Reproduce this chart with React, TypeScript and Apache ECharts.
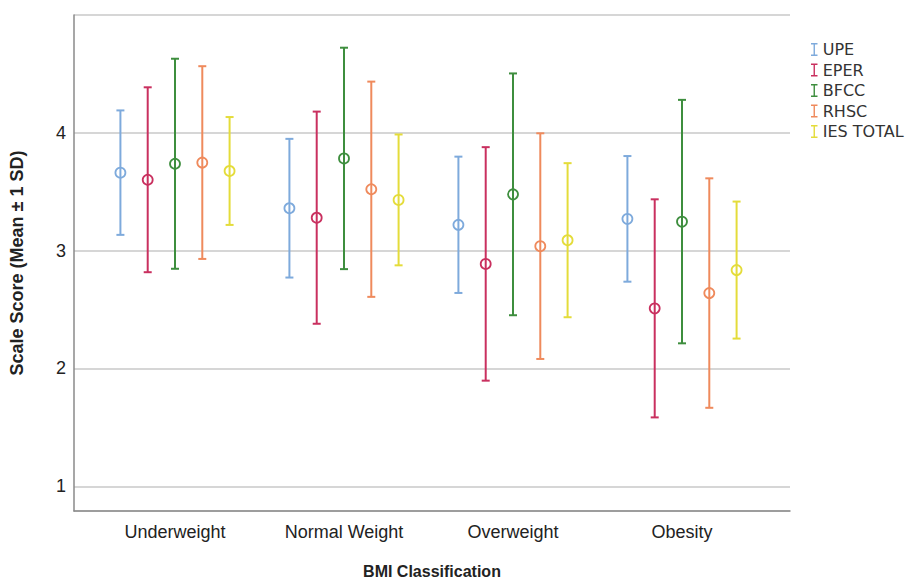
import React, { useEffect, useRef } from "react";
import * as echarts from "echarts";

const categories = ["Underweight", "Normal Weight", "Overweight", "Obesity"];
const seriesNames = ["UPE", "EPER", "BFCC", "RHSC", "IES TOTAL"];
const seriesColors = ["#7eaadc", "#c9305f", "#3e8e3e", "#ef8a5c", "#e4dc3a"];

// mean and SD per series, one value per BMI category
const upeMean = [3.67, 3.37, 3.23, 3.28];
const upeSd = [0.525, 0.585, 0.575, 0.53];
const eperMean = [3.61, 3.29, 2.9, 2.525];
const eperSd = [0.78, 0.895, 0.985, 0.92];
const bfccMean = [3.745, 3.79, 3.487, 3.257];
const bfccSd = [0.886, 0.934, 1.02, 1.027];
const rhscMean = [3.755, 3.53, 3.05, 2.654];
const rhscSd = [0.813, 0.908, 0.952, 0.968];
const iesMean = [3.684, 3.44, 3.1, 2.848];
const iesSd = [0.455, 0.552, 0.65, 0.578];

const yTicks = [1, 2, 3, 4];

const means = [upeMean, eperMean, bfccMean, rhscMean, iesMean];
const sds = [upeSd, eperSd, bfccSd, rhscSd, iesSd];

const FONT = "Liberation Sans, Arial, sans-serif";
const Y_MIN = 0.79;
const Y_MAX = 5;

export default function App() {
  const ref = useRef<HTMLDivElement>(null);
  useEffect(() => {
    if (!ref.current) return;
    const chart = echarts.init(ref.current, null, { renderer: "svg" });
    const series = seriesNames.map((name, s) => ({
      type: "custom",
      name,
      xAxisIndex: 1,
      yAxisIndex: 1,
      itemStyle: { color: seriesColors[s] },
      encode: { x: 0, y: [1] },
      data: categories.map((_, i) => [i, means[s][i], sds[s][i]]),
      renderItem: (params: any, api: any) => {
        const cat = api.value(0);
        const mean = api.value(1);
        const sd = api.value(2);
        const band = api.size([1, 0])[0];
        const off = (params.seriesIndex - 2) * band * 0.1615;
        const top = api.coord([cat, mean + sd]);
        const bot = api.coord([cat, mean - sd]);
        const mid = api.coord([cat, mean]);
        const x = mid[0] + off;
        const color = seriesColors[params.seriesIndex];
        const cw = 4;
        const ls = { stroke: color, lineWidth: 2 };
        return {
          type: "group",
          children: [
            { type: "line", shape: { x1: x, y1: top[1], x2: x, y2: bot[1] }, style: ls },
            { type: "line", shape: { x1: x - cw, y1: top[1], x2: x + cw, y2: top[1] }, style: ls },
            { type: "line", shape: { x1: x - cw, y1: bot[1], x2: x + cw, y2: bot[1] }, style: ls },
            {
              type: "circle",
              shape: { cx: x, cy: mid[1], r: 5 },
              style: { fill: "none", stroke: color, lineWidth: 1.8 },
            },
          ],
        };
      },
    }));

    chart.setOption({
      animation: false,
      backgroundColor: "#ffffff",
      textStyle: { fontFamily: FONT },
      legend: {
        orient: "vertical",
        left: 806,
        top: 36,
        itemWidth: 7,
        itemHeight: 13,
        itemGap: 3.5,
        textStyle: { fontFamily: "DejaVu Sans, " + FONT, fontSize: 16, lineHeight: 17, color: "#333" },
        data: seriesNames.map((n) => ({
          name: n,
          icon: "path://M0,0H7V1.5H4.25V12.5H7V14H0V12.5H2.75V1.5H0Z",
        })),
      },
      grid: [
        { left: 70, right: 123, top: 15, bottom: 70, show: false },
        { left: 90.5, right: 146.5, top: 15, bottom: 70, show: false },
      ],
      xAxis: [
        {
          type: "category",
          gridIndex: 0,
          data: categories,
          axisLine: { show: true, lineStyle: { color: "#8a8a8a", width: 1.5 } },
          axisTick: { show: false },
          axisLabel: { show: false },
          splitLine: { show: false },
          name: "BMI Classification",
          nameLocation: "middle",
          nameGap: 52,
          nameTextStyle: { fontFamily: FONT, fontWeight: "bold", fontSize: 16, color: "#222" },
        },
        {
          type: "category",
          gridIndex: 1,
          data: categories,
          axisLine: { show: false },
          axisTick: { show: false },
          splitLine: { show: false },
          axisLabel: { fontFamily: FONT, fontSize: 18, color: "#222", margin: 9 },
        },
      ],
      yAxis: [
        {
          type: "value",
          gridIndex: 0,
          min: Y_MIN,
          max: Y_MAX,
          axisLine: { show: true, lineStyle: { color: "#8a8a8a", width: 1.5 } },
          axisTick: { show: false },
          splitLine: { show: true, lineStyle: { color: "#c8c8c8", width: 1.5 } },
          axisLabel: {
            fontFamily: FONT,
            fontSize: 18,
            color: "#222",
            margin: 8,
            formatter: (v: number) => {
              const r = Math.round(v);
              return Math.abs(v - r) < 1e-6 && yTicks.includes(r) ? String(r) : "";
            },
          },
          name: "Scale Score (Mean \u00b1 1 SD)",
          nameLocation: "middle",
          nameGap: 48,
          nameTextStyle: { fontFamily: FONT, fontWeight: "bold", fontSize: 18, color: "#222" },
        },
        {
          type: "value",
          gridIndex: 1,
          min: Y_MIN,
          max: Y_MAX,
          show: false,
          axisLine: { show: false },
          axisLabel: { show: false },
          splitLine: { show: false },
        },
      ],
      series,
    });
    return () => chart.dispose();
  }, []);
  return (
    <div
      ref={ref}
      style={{ position: "absolute", left: 0, top: 0, width: 913, height: 584 }}
    />
  );
}
